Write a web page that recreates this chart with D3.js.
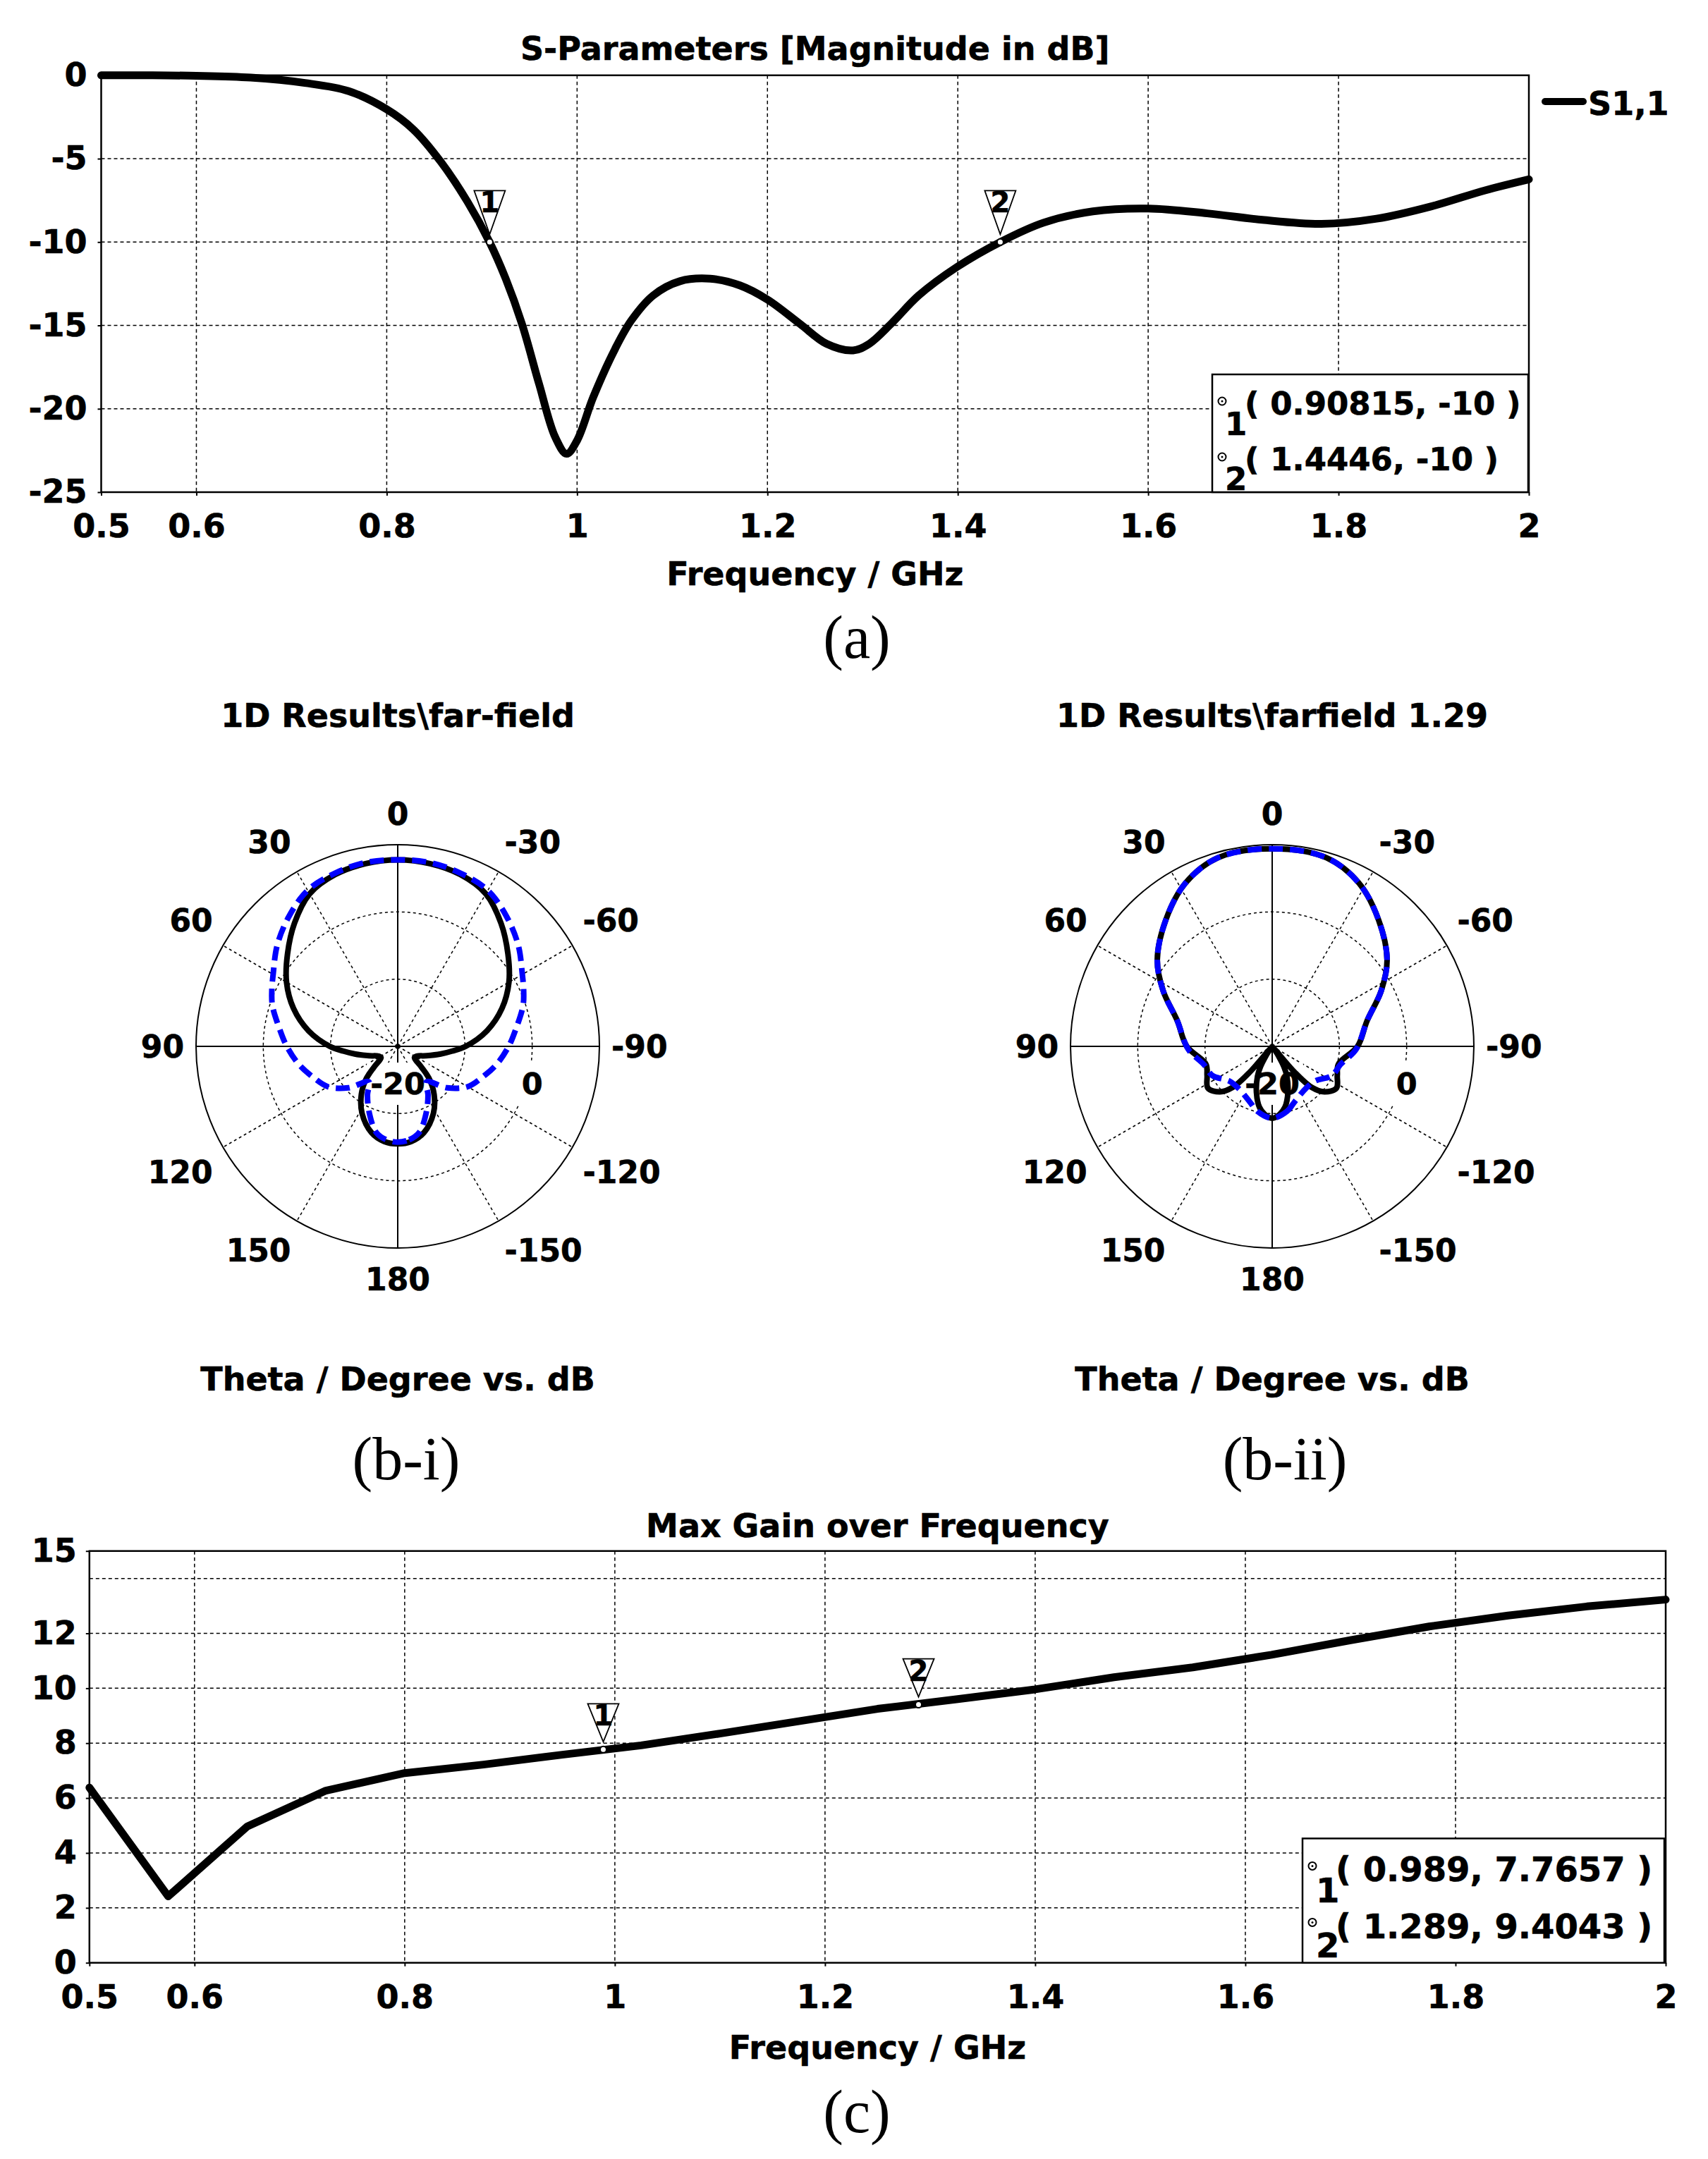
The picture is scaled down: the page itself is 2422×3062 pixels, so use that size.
<!DOCTYPE html>
<html>
<head>
<meta charset="utf-8">
<script src="https://cdn.jsdelivr.net/npm/d3@7/dist/d3.min.js"></script>
<style>
	body { margin: 0; background: #fff; }
	text { font-family: "DejaVu Sans", Verdana, sans-serif; font-weight: bold; fill: #000; stroke: #000; stroke-width: 0.6px; }
	text.cap { font-family: "Liberation Serif", "Times New Roman", serif; font-weight: normal; stroke: none; }
</style>
</head>
<body>
<div id="chartDiv"></div>
<script>
// ---- (a) S-parameters
const sParamFreq = [0.5, 0.55, 0.6, 0.657, 0.714, 0.76, 0.8, 0.828, 0.857, 0.885, 0.908, 0.925, 0.942, 0.96, 0.977, 0.989, 1.0, 1.017, 1.04, 1.057, 1.08, 1.108, 1.14, 1.171, 1.2, 1.234, 1.262, 1.29, 1.307, 1.33, 1.359, 1.399, 1.4446, 1.49, 1.542, 1.6, 1.662, 1.72, 1.782, 1.84, 1.897, 1.954, 2.0];
const sParamDb = [0, 0, -0.03, -0.14, -0.46, -0.95, -2.04, -3.25, -5.2, -7.6, -10, -12.2, -14.9, -18.5, -21.7, -22.7, -21.9, -19.3, -16.4, -14.7, -13.2, -12.35, -12.2, -12.6, -13.45, -14.9, -16.1, -16.5, -16.1, -14.9, -13.2, -11.5, -10, -8.84, -8.16, -7.99, -8.28, -8.67, -8.91, -8.6, -7.87, -6.9, -6.24];
const sParamMarkers = [[0.90815, -10], [1.4446, -10]];
const sParamTicks = [0, -5, -10, -15, -20, -25];
const sParamGrid = [-5, -10, -15, -20];

// ---- shared frequency axis
const freqTicks = [0.5, 0.6, 0.8, 1, 1.2, 1.4, 1.6, 1.8, 2];
const freqGrid = [0.6, 0.8, 1, 1.2, 1.4, 1.6, 1.8];

// ---- (c) max gain
const gainFreq = [0.5, 0.575, 0.65, 0.725, 0.8, 0.875, 0.95, 1.025, 1.1, 1.175, 1.25, 1.325, 1.4, 1.475, 1.55, 1.625, 1.7, 1.775, 1.85, 1.925, 2.0];
const gainDb = [6.38, 2.42, 4.96, 6.27, 6.91, 7.22, 7.58, 7.92, 8.35, 8.8, 9.25, 9.6, 9.96, 10.4, 10.76, 11.22, 11.75, 12.25, 12.65, 12.98, 13.23];
const gainMarkers = [[0.989, 7.7657], [1.289, 9.4043]];
const gainTicks = [0, 2, 4, 6, 8, 10, 12, 15];
const gainGrid = [2, 4, 6, 8, 10, 12, 14];

// ---- (b) polar far-field patterns, theta in degrees (positive = left side)
const polarAngleTicks = [0, 30, 60, 90, 120, 150, 180, -150, -120, -90, -60, -30];
const polarSpokes = [30, 60, 120, 150, -30, -60, -120, -150];
const polarRings = [-10, 0];
const polarRingLabels = [-20, 0];

const bi1Theta = [-180, -172, -163, -152, -143, -136, -131, -124, -117, -108, -100, -95, -90, -80, -70, -60, -50, -40, -30, -20, -10, 0, 10, 20, 30, 40, 50, 60, 70, 80, 90, 95, 100, 108, 117, 124, 131, 136, 143, 152, 163, 172];
const bi1Db = [-5.5, -5.7, -6.6, -8.7, -11.0, -13.2, -15.4, -17.0, -16.8, -15.5, -13.5, -11.9, -9.9, -6.5, -3.5, -0.9, 1.4, 3.9, 6.2, 7.2, 7.6, 7.75, 7.6, 7.2, 6.2, 3.9, 1.4, -0.9, -3.5, -6.5, -9.9, -11.9, -13.5, -15.5, -16.8, -17.0, -15.4, -13.2, -11.0, -8.7, -6.6, -5.7];
const bi2Theta = [-180, -173, -166, -157, -148, -141, -130, -120, -110, -100, -90, -82, -72, -66, -60, -50, -40, -30, -20, -10, 0, 10, 20, 30, 40, 50, 60, 66, 72, 82, 90, 100, 110, 120, 130, 141, 148, 157, 166, 173];
const bi2Db = [-5.75, -6.0, -6.8, -9.2, -11.5, -13.2, -10.4, -8.0, -6.6, -5.0, -3.5, -2.3, -0.4, 0.5, 1.4, 3.4, 5.2, 6.8, 7.4, 7.75, 7.75, 7.75, 7.4, 6.8, 5.2, 3.4, 1.4, 0.5, -0.4, -2.3, -3.5, -5.0, -6.6, -8.0, -10.4, -13.2, -11.5, -9.2, -6.8, -6.0];

const bii1Theta = [-180, -174, -168, -161, -154, -150, -146, -141, -139, -136, -131, -123, -114, -105, -90, -75, -63, -53, -40, -28, -16, 0, 16, 28, 40, 53, 63, 75, 90, 105, 114, 123, 131, 136, 139, 141, 146, 150, 154, 161, 168, 174];
const bii1Db = [-9.3, -9.8, -10.8, -12.8, -15.0, -16.5, -18.5, -19.5, -15.0, -11.5, -9.7, -8.6, -9.4, -9.8, -7.3, -5.4, -1.8, 1.4, 4.6, 7.5, 9.2, 9.4, 9.2, 7.5, 4.6, 1.4, -1.8, -5.4, -7.3, -9.8, -9.4, -8.6, -9.7, -11.5, -15.0, -19.5, -18.5, -16.5, -15.0, -12.8, -10.8, -9.8];
const bii2Theta = [-180, -167, -158, -141, -129, -116, -105, -92, -75, -63, -53, -40, -28, -16, 0, 16, 28, 40, 53, 63, 75, 92, 105, 116, 129, 141, 158, 167];
const bii2Db = [-9.3, -10.1, -11.1, -12.0, -11.8, -10.1, -9.5, -7.5, -5.4, -1.8, 1.4, 4.6, 7.5, 9.2, 9.4, 9.2, 7.5, 4.6, 1.4, -1.8, -5.4, -7.5, -9.5, -10.1, -11.8, -12.0, -11.1, -10.1];

const W = 2422, H = 3062;
const FONT = 46;

const svg = d3.select('#chartDiv').append('svg')
	.attr('width', W)
	.attr('height', H);
svg.append('rect').attr('width', W).attr('height', H).attr('fill', '#fff');

function addText(parent, str, x, y, size, anchor){
	return parent.append('text')
		.attr('x', x)
		.attr('y', y)
		.attr('font-size', size)
		.attr('text-anchor', anchor || 'middle')
		.text(str);
}

function drawMarkerBox(g, box, markers){
	g.append('rect')
		.attr('x', box.x).attr('y', box.y)
		.attr('width', box.x2 - box.x).attr('height', box.y2 - box.y)
		.attr('fill', '#fff').attr('stroke', '#000').attr('stroke-width', 2.5);
	markers.forEach((m, i) => {
		g.append('circle').attr('cx', box.x + 14).attr('cy', box.y + box.circ[i])
			.attr('r', 5.5).attr('fill', 'none').attr('stroke', '#000').attr('stroke-width', 2);
		g.append('circle').attr('cx', box.x + 14).attr('cy', box.y + box.circ[i])
			.attr('r', 1.5).attr('fill', '#000');
		addText(g, String(i + 1), box.x + box.sx, box.y + box.sub[i], box.font, 'start');
		addText(g, `( ${m[0]}, ${m[1]} )`, box.x + box.tx, box.y + box.row[i], box.font, 'start');
	});
}

function drawCartesian(cfg){
	const x = d3.scaleLinear().domain(cfg.xDomain).range([cfg.left, cfg.right]);
	const y = d3.scaleLinear().domain(cfg.yDomain).range([cfg.bottom, cfg.top]);
	const g = svg.append('g');

	//grid
	g.selectAll('line.vgrid').data(cfg.xGrid).enter().append('line')
		.attr('class', 'vgrid')
		.attr('x1', d => x(d)).attr('x2', d => x(d))
		.attr('y1', cfg.top).attr('y2', cfg.bottom)
		.attr('stroke', '#000').attr('stroke-width', 1.5).attr('stroke-dasharray', '5,4');
	g.selectAll('line.hgrid').data(cfg.yGrid).enter().append('line')
		.attr('class', 'hgrid')
		.attr('x1', cfg.left).attr('x2', cfg.right)
		.attr('y1', d => y(d)).attr('y2', d => y(d))
		.attr('stroke', '#000').attr('stroke-width', 1.5).attr('stroke-dasharray', '5,4');

	//frame
	g.append('rect')
		.attr('x', cfg.left).attr('y', cfg.top)
		.attr('width', cfg.right - cfg.left).attr('height', cfg.bottom - cfg.top)
		.attr('fill', 'none').attr('stroke', '#000').attr('stroke-width', 2.5);

	//axes
	const xAxis = d3.axisBottom(x).tickValues(cfg.xTicks).tickFormat(d => String(d))
		.tickSizeInner(5).tickSizeOuter(0).tickPadding(cfg.xPad);
	const yAxis = d3.axisLeft(y).tickValues(cfg.yTicks).tickFormat(d => String(d))
		.tickSizeInner(5).tickSizeOuter(0).tickPadding(cfg.yPad);
	[g.append('g').attr('transform', `translate(0,${cfg.bottom})`).call(xAxis),
	 g.append('g').attr('transform', `translate(${cfg.left},0)`).call(yAxis)]
		.forEach(a => {
			a.attr('font-size', null).attr('font-family', null);
			a.select('.domain').remove();
			a.selectAll('line').attr('stroke-width', 2);
			a.selectAll('text').attr('font-size', FONT).attr('fill', '#000');
		});

	//titles
	const mid = (cfg.left + cfg.right) / 2;
	addText(g, cfg.title, mid, cfg.titleY, FONT);
	addText(g, 'Frequency / GHz', mid, cfg.labelY, FONT);

	//curve
	const line = d3.line().x(d => x(d[0])).y(d => y(d[1])).curve(cfg.curve);
	g.append('path')
		.datum(d3.zip(cfg.xs, cfg.ys))
		.attr('d', line)
		.attr('fill', 'none').attr('stroke', '#000').attr('stroke-width', 11)
		.attr('stroke-linejoin', 'round').attr('stroke-linecap', 'round');

	//markers on the curve
	cfg.markers.forEach((m, i) => {
		const px = x(m[0]), py = y(m[1]);
		g.append('path')
			.attr('d', `M${px - 22},${py - cfg.triTop} L${px + 22},${py - cfg.triTop} L${px},${py - 11} Z`)
			.attr('fill', '#fff').attr('fill-opacity', 0.9).attr('stroke', '#000').attr('stroke-width', 1.8);
		addText(g, String(i + 1), px, py - cfg.triTop + 31, 40);
		g.append('circle').attr('cx', px).attr('cy', py).attr('r', 4.5)
			.attr('fill', '#fff').attr('stroke', '#000').attr('stroke-width', 2);
	});

	drawMarkerBox(g, cfg.box, cfg.markers);
	return g;
}

function drawPolar(cfg){
	const R = 286;
	const rScale = d3.scaleLinear().domain([-20, 10]).range([0, R]).clamp(true);
	const g = svg.append('g').attr('transform', `translate(${cfg.cx},${cfg.cy})`);
	const rad = a => a * Math.PI / 180;

	g.selectAll('circle.ring').data(polarRings).enter().append('circle')
		.attr('class', 'ring').attr('r', d => rScale(d))
		.attr('fill', 'none').attr('stroke', '#000').attr('stroke-width', 1.5).attr('stroke-dasharray', '4,4');
	g.selectAll('line.spoke').data(polarSpokes).enter().append('line')
		.attr('class', 'spoke')
		.attr('x1', 0).attr('y1', 0)
		.attr('x2', d => -R * Math.sin(rad(d))).attr('y2', d => -R * Math.cos(rad(d)))
		.attr('stroke', '#000').attr('stroke-width', 1.5).attr('stroke-dasharray', '4,4');
	g.append('circle').attr('r', R).attr('fill', 'none').attr('stroke', '#000').attr('stroke-width', 2);
	g.append('line').attr('x1', -R).attr('x2', R).attr('y1', 0).attr('y2', 0).attr('stroke', '#000').attr('stroke-width', 2);
	g.append('line').attr('x1', 0).attr('x2', 0).attr('y1', -R).attr('y2', R).attr('stroke', '#000').attr('stroke-width', 2);

	//angle labels: anchored just outside the circle, pushed out by their own size
	polarAngleTicks.forEach(a => {
		const s = Math.sin(rad(a)), c = Math.cos(rad(a));
		const anchor = s > 0.01 ? 'end' : (s < -0.01 ? 'start' : 'middle');
		const vy = Math.abs(c) < 0.01 ? 0 : -27 * Math.sign(c);
		addText(g, String(a), -303 * s, -303 * c + vy, 44, anchor).attr('dy', '0.36em');
	});

	//ring labels on a white patch, under the curves
	polarRingLabels.forEach(v => {
		const t = addText(g, String(v), rScale(v), 68, 43);
		const bb = t.node().getBBox();
		g.insert('rect', () => t.node())
			.attr('x', bb.x - 5).attr('y', bb.y - 5)
			.attr('width', bb.width + 10).attr('height', bb.height + 10)
			.attr('fill', '#fff');
	});

	const radial = d3.lineRadial()
		.angle(d => -rad(d[0]))
		.radius(d => rScale(d[1]))
		.curve(d3.curveCatmullRomClosed);
	g.append('path').datum(d3.zip(cfg.solidTheta, cfg.solidDb)).attr('d', radial)
		.attr('fill', 'none').attr('stroke', '#000').attr('stroke-width', 8).attr('stroke-linejoin', 'round');
	g.append('path').datum(d3.zip(cfg.dashTheta, cfg.dashDb)).attr('d', radial)
		.attr('fill', 'none').attr('stroke', '#0000ff').attr('stroke-width', 8).attr('stroke-dasharray', '20,10');

	addText(svg, cfg.title, cfg.cx, 1031, FONT);
	addText(svg, 'Theta / Degree vs. dB', cfg.cx, 1972, FONT);
}

drawCartesian({
	left: 143.5, right: 2168, top: 106.8, bottom: 698,
	xDomain: [0.5, 2], yDomain: [-25, 0],
	xTicks: freqTicks, xGrid: freqGrid, yTicks: sParamTicks, yGrid: sParamGrid,
	xPad: 26, yPad: 15,
	title: 'S-Parameters [Magnitude in dB]', titleY: 85, labelY: 830,
	xs: sParamFreq, ys: sParamDb, curve: d3.curveCatmullRom,
	markers: sParamMarkers, triTop: 73,
	box: { x: 1719, y: 531, x2: 2167, y2: 698, font: 45, row: [57, 136], sub: [86, 164], circ: [38, 117], tx: 46, sx: 18 }
});

//legend for (a)
svg.append('line').attr('x1', 2191).attr('x2', 2245).attr('y1', 144).attr('y2', 144)
	.attr('stroke', '#000').attr('stroke-width', 10).attr('stroke-linecap', 'round');
addText(svg, 'S1,1', 2252, 163, FONT, 'start');

drawCartesian({
	left: 126.8, right: 2362, top: 2199.7, bottom: 2783.7,
	xDomain: [0.5, 2], yDomain: [0, 15],
	xTicks: freqTicks, xGrid: freqGrid, yTicks: gainTicks, yGrid: gainGrid,
	xPad: 27, yPad: 13,
	title: 'Max Gain over Frequency', titleY: 2180, labelY: 2920,
	xs: gainFreq, ys: gainDb, curve: d3.curveLinear,
	markers: gainMarkers, triTop: 65,
	box: { x: 1847, y: 2607.4, x2: 2360, y2: 2783.7, font: 48, row: [61, 142], sub: [91, 169], circ: [39, 119], tx: 47, sx: 19 }
});

drawPolar({ cx: 564, cy: 1484, title: '1D Results\\far-field',
	solidTheta: bi1Theta, solidDb: bi1Db, dashTheta: bi2Theta, dashDb: bi2Db });
drawPolar({ cx: 1804, cy: 1484, title: '1D Results\\farfield 1.29',
	solidTheta: bii1Theta, solidDb: bii1Db, dashTheta: bii2Theta, dashDb: bii2Db });

//panel captions
addText(svg, '(a)', 1215, 933, 86).attr('class', 'cap');
addText(svg, '(b-i)', 576, 2098, 86).attr('class', 'cap');
addText(svg, '(b-ii)', 1822, 2098, 86).attr('class', 'cap');
addText(svg, '(c)', 1215, 3024, 86).attr('class', 'cap');
</script>
</body>
</html>
